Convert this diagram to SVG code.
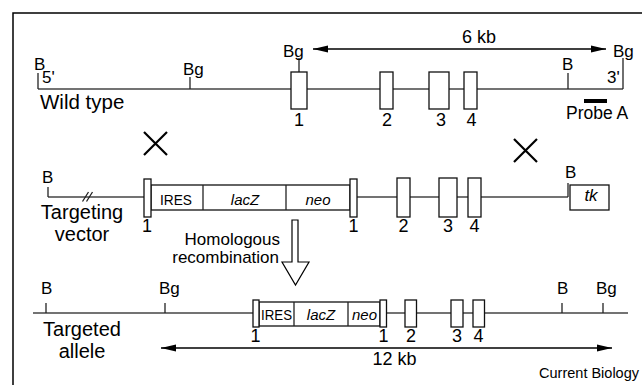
<svg xmlns="http://www.w3.org/2000/svg" width="642" height="385" viewBox="0 0 642 385">
<style>
text{font-family:"Liberation Sans",Arial,Helvetica,sans-serif;fill:#000}
.site{font-size:17px}
.num{font-size:18px;text-anchor:middle}
.big{font-size:20px}
.mid{font-size:17px}
.box{font-size:15px}
.it{font-style:italic}
.dna{stroke:#444;stroke-width:1.5;fill:none}
.tick{stroke:#222;stroke-width:1.3;fill:none}
.exon{fill:#fff;stroke:#111;stroke-width:1.3}
.arr{stroke:#000;stroke-width:1.4;fill:none}
.cross{stroke:#000;stroke-width:2.2;fill:none}
</style>
<defs>
<marker id="ah" markerUnits="userSpaceOnUse" markerWidth="16" markerHeight="8" refX="15" refY="3.5" orient="auto-start-reverse" viewBox="0 0 16 7">
<path d="M0,0 L15,3.5 L0,7 Z" fill="#000"/>
</marker>
</defs>
<g id="frame">
<path d="M13,385 V13 H642" stroke="#000" stroke-width="1.5" fill="none"/>
</g>
<g id="connectors">
<line class="arr" x1="313" y1="49" x2="606" y2="49" marker-start="url(#ah)" marker-end="url(#ah)"/>
<line class="arr" x1="161" y1="348" x2="612" y2="348" marker-start="url(#ah)" marker-end="url(#ah)"/>
<polygon id="recomb-arrow" points="292,220 298,220 298,262 309,262 295.5,285 282,262 292,262" fill="#fff" stroke="#000" stroke-width="1.2"/>
</g>
<g id="wild-type">
<line class="dna" x1="38" y1="89" x2="623" y2="89"/>
<line class="tick" x1="38" y1="73" x2="38" y2="89"/>
<line class="tick" x1="190" y1="77" x2="190" y2="89"/>
<line class="tick" x1="299" y1="58" x2="299" y2="72"/>
<line class="tick" x1="568" y1="73" x2="568" y2="89"/>
<line class="tick" x1="623" y1="58" x2="623" y2="89"/>
<rect class="exon" x="291" y="72" width="16" height="37"/>
<rect class="exon" x="380" y="72" width="13" height="37"/>
<rect class="exon" x="429" y="72" width="20" height="37"/>
<rect class="exon" x="464" y="72" width="13" height="37"/>
<rect x="584" y="99" width="23" height="4" fill="#000"/>
<text class="site" x="34" y="70">B</text>
<text class="site" x="42" y="83">5'</text>
<text class="site" x="183" y="75">Bg</text>
<text class="site" x="283" y="57">Bg</text>
<text class="site" x="562" y="70">B</text>
<text class="site" x="613" y="57">Bg</text>
<text class="site" x="607" y="83">3'</text>
<text x="479" y="43" style="font-size:18px;text-anchor:middle">6 kb</text>
<text class="big" x="40" y="109" style="font-size:20.5px">Wild type</text>
<text class="num" x="299" y="126">1</text>
<text class="num" x="387" y="126">2</text>
<text class="num" x="441" y="126">3</text>
<text class="num" x="471.5" y="126">4</text>
<text x="566" y="119" style="font-size:17.5px">Probe A</text>
</g>
<g id="crosses">
<path class="cross" d="M144,132 L167,155 M167,132 L144,155"/>
<path class="cross" d="M514,139 L537,162 M537,139 L514,162"/>
</g>
<g id="targeting-vector">
<line class="dna" x1="48" y1="197" x2="144" y2="197"/>
<line class="dna" x1="357" y1="197" x2="568" y2="197"/>
<line class="tick" x1="48" y1="187" x2="48" y2="197"/>
<line class="tick" x1="568" y1="183" x2="568" y2="197"/>
<path d="M82.5,201.5 L88.5,192 M86.5,201.5 L92.5,192" stroke="#222" stroke-width="1.3" fill="none"/>
<rect class="exon" x="151" y="185" width="199" height="25"/>
<line class="tick" x1="203" y1="185" x2="203" y2="210"/>
<line class="tick" x1="286" y1="185" x2="286" y2="210"/>
<rect class="exon" x="144" y="179" width="7" height="38"/>
<rect class="exon" x="350" y="179" width="7" height="38"/>
<rect class="exon" x="397" y="178" width="13" height="39"/>
<rect class="exon" x="439" y="178" width="18" height="39"/>
<rect class="exon" x="468" y="178" width="13" height="39"/>
<rect class="exon" x="570" y="185" width="39" height="25"/>
<text class="box" x="176" y="205" text-anchor="middle" textLength="32" lengthAdjust="spacingAndGlyphs">IRES</text>
<text class="box it" x="245" y="205" text-anchor="middle">lacZ</text>
<text class="box it" x="318" y="205" text-anchor="middle">neo</text>
<text class="it" x="591" y="201" style="font-size:17px;text-anchor:middle">tk</text>
<text class="site" x="42" y="183">B</text>
<text class="site" x="565" y="178">B</text>
<text class="big" x="82" y="219" text-anchor="middle">Targeting</text>
<text class="big" x="82" y="241" text-anchor="middle">vector</text>
<text class="num" x="147" y="232">1</text>
<text class="num" x="353.5" y="232">1</text>
<text class="num" x="403.5" y="232">2</text>
<text class="num" x="448" y="232">3</text>
<text class="num" x="474.5" y="232">4</text>
<text class="mid" x="280" y="245" text-anchor="end">Homologous</text>
<text class="mid" x="279" y="263" text-anchor="end">recombination</text>
</g>
<g id="targeted-allele">
<line class="dna" x1="33" y1="313" x2="628" y2="313"/>
<line class="tick" x1="46" y1="303" x2="46" y2="313"/>
<line class="tick" x1="165" y1="303" x2="165" y2="313"/>
<line class="tick" x1="562" y1="303" x2="562" y2="313"/>
<line class="tick" x1="603" y1="303" x2="603" y2="313"/>
<rect class="exon" x="259" y="302" width="121" height="24"/>
<line class="tick" x1="294" y1="302" x2="294" y2="326"/>
<line class="tick" x1="348" y1="302" x2="348" y2="326"/>
<rect class="exon" x="253" y="300" width="6" height="27"/>
<rect class="exon" x="380" y="300" width="6.5" height="27" stroke-width="2"/>
<rect class="exon" x="405" y="300" width="11.5" height="27"/>
<rect class="exon" x="451" y="300" width="12" height="27"/>
<rect class="exon" x="473" y="300" width="11.5" height="27"/>
<text class="box" x="276.5" y="320" text-anchor="middle" textLength="31" lengthAdjust="spacingAndGlyphs">IRES</text>
<text class="box it" x="321" y="320" text-anchor="middle">lacZ</text>
<text class="box it" x="364.5" y="320" text-anchor="middle" textLength="25" lengthAdjust="spacingAndGlyphs">neo</text>
<text class="site" x="41" y="294">B</text>
<text class="site" x="159" y="294">Bg</text>
<text class="site" x="557" y="294">B</text>
<text class="site" x="596" y="294">Bg</text>
<text class="big" x="82" y="336" text-anchor="middle">Targeted</text>
<text class="big" x="82" y="358" text-anchor="middle">allele</text>
<text class="num" x="255.5" y="342">1</text>
<text class="num" x="383.5" y="342">1</text>
<text class="num" x="411" y="342">2</text>
<text class="num" x="457" y="342">3</text>
<text class="num" x="478.5" y="342">4</text>
<text x="394.5" y="365" style="font-size:18px;text-anchor:middle">12 kb</text>
</g>
<text x="639" y="378" style="font-size:14.5px;text-anchor:end">Current Biology</text>
</svg>
